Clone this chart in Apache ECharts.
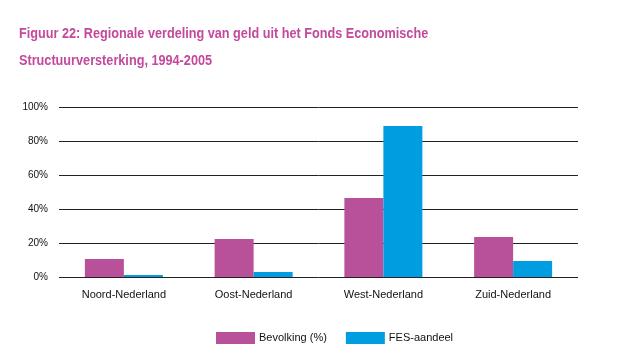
<!DOCTYPE html>
<html><head><meta charset="utf-8">
<script src="https://cdn.jsdelivr.net/npm/echarts@6/dist/echarts.min.js"></script>
<style>html,body{margin:0;padding:0;background:#fff}#c{width:631px;height:361px}</style>
</head><body><div id="c"></div>
<script>
const categories = ['Noord-Nederland', 'Oost-Nederland', 'West-Nederland', 'Zuid-Nederland'];
const bevolking = [10.6, 22.4, 46.5, 23.5];
const fesAandeel = [1.2, 3.0, 88.8, 9.4];
const seriesNames = ['Bevolking (%)', 'FES-aandeel'];
const titleLines = ['Figuur 22: Regionale verdeling van geld uit het Fonds Economische', 'Structuurversterking, 1994-2005'];
const yTicks = [0, 20, 40, 60, 80, 100];

const titleFont = 'bold 15px "Liberation Sans", Arial, sans-serif';
const chart = echarts.init(document.getElementById('c'), null, {renderer: 'canvas'});
chart.setOption({
  animation: false,
  graphic: titleLines.map((t, i) => ({
    type: 'text', left: 19, top: 26 + i * 27, scaleX: 0.845, originX: 0,
    style: {text: t, fill: '#c4489c', font: titleFont}
  })),
  legend: {
    data: seriesNames, left: 211, top: 327, itemWidth: 39, itemHeight: 12, itemGap: 19,
    icon: 'rect',
    textStyle: {color: '#111', fontSize: 11, fontFamily: '"Liberation Sans", Arial, sans-serif', padding: [0,0,0,-1]}
  },
  grid: {left: 59, right: 53, top: 107, bottom: 84, containLabel: false},
  xAxis: {
    type: 'category', data: categories,
    axisLine: {show: false}, axisTick: {show: false},
    axisLabel: {color: '#111', fontSize: 11, margin: 12, fontFamily: '"Liberation Sans", Arial, sans-serif'}
  },
  yAxis: {
    type: 'value', min: 0, max: 100, interval: 20,
    axisLine: {show: false}, axisTick: {show: false},
    axisLabel: {color: '#111', fontSize: 10, margin: 11, formatter: v => yTicks.includes(v) ? v + '%' : '', fontFamily: '"Liberation Sans", Arial, sans-serif'},
    splitLine: {lineStyle: {color: '#222', width: 1}}
  },
  series: [
    {name: seriesNames[0], type: 'bar', data: bevolking, barWidth: 39, barGap: '0%', itemStyle: {color: '#b8509a'}},
    {name: seriesNames[1], type: 'bar', data: fesAandeel, barWidth: 39, itemStyle: {color: '#009ee0'}}
  ]
});
</script></body></html>
